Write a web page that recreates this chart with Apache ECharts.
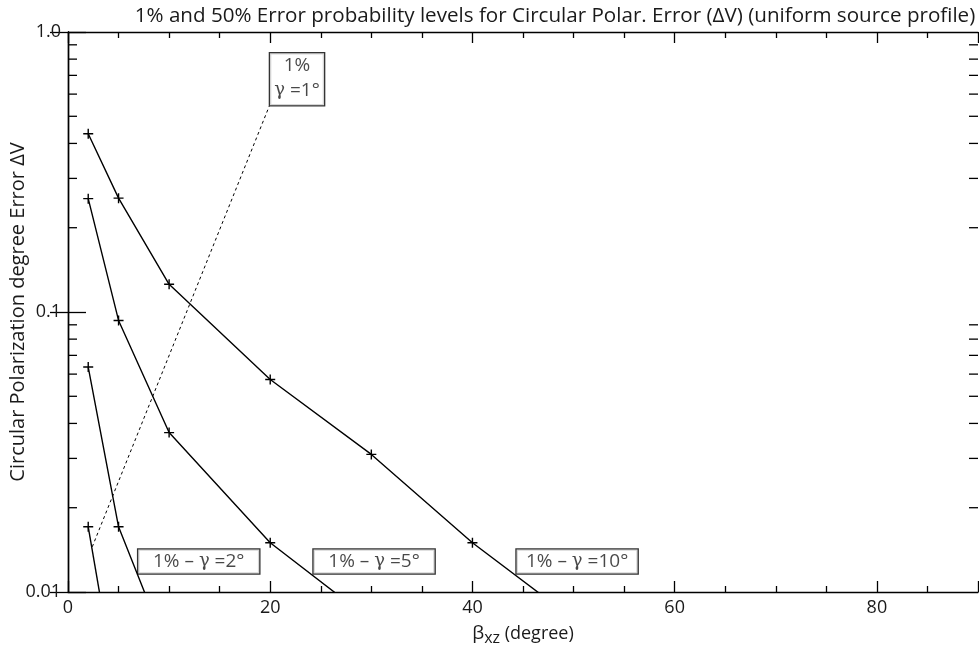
<!DOCTYPE html>
<html>
<head>
<meta charset="utf-8">
<script src="https://cdn.jsdelivr.net/npm/echarts@6/dist/echarts.min.js"></script>
<style>
  html, body { margin: 0; padding: 0; background: #fff; }
  #main { width: 979px; height: 650px; }
</style>
</head>
<body>
<div id="main"></div>
<script>
// 讀圖得到的數據 (beta_xz, 度)
const betaG10 = [2, 5, 10, 20, 30, 40, 50];
const errG10 = [0.433, 0.255, 0.1256, 0.0574, 0.031, 0.015, 0.008];
const betaG5 = [2, 5, 10, 20, 30];
const errG5 = [0.254, 0.0933, 0.0371, 0.015, 0.0079];
const betaG2 = [2, 5, 10];
const errG2 = [0.0636, 0.0171, 0.006];
const betaG1 = [2, 5];
const errG1 = [0.0171, 0.004];

// 虛線 (1% γ=1°)
const dashBeta = [2.4, 19.9];
const dashErr = [0.0145, 0.543];

// 標註框
const boxText = ['1%\nγ =1°', '1% – γ =2°', '1% – γ =5°', '1% – γ =10°'];
const boxBeta = [22.65, 12.93, 30.27, 50.35];
const boxErr = [0.678, 0.01285, 0.01285, 0.01285];

// 刻度
const xTickLabels = { 0: '0', 20: '20', 40: '40', 60: '60', 80: '80' };
const yTickLabels = { 0.01: '0.01', 0.1: '0.1', 1: '1.0' };
const yMinorTicks = [0.02, 0.03, 0.04, 0.05, 0.06, 0.07, 0.08, 0.09, 0.2, 0.3, 0.4, 0.5, 0.6, 0.7, 0.8, 0.9];

const FONT = 'Open Sans';
const INK = '#1a1a1a';
const plus = 'path://M4.3 0h1.4v10h-1.4z M0 4.3h10v1.4h-10z';

const chart = echarts.init(document.getElementById('main'), null, { renderer: 'canvas' });

const pairs = (xs, ys) => xs.map((x, i) => [x, ys[i]]);

function curve(xs, ys) {
  return {
    type: 'line',
    data: pairs(xs, ys),
    symbol: plus,
    symbolSize: 10,
    showSymbol: true,
    clip: true,
    lineStyle: { color: '#000', width: 1.4 },
    itemStyle: { color: '#000' },
    silent: true,
    z: 3,
  };
}

const xCommon = {
  type: 'value',
  min: 0,
  max: 90,
  interval: 20,
  axisLine: { show: true, lineStyle: { color: '#000', width: 1.4 } },
  axisTick: { show: true, inside: true, length: 11, lineStyle: { color: '#000', width: 1.3 } },
  minorTick: { show: true, splitNumber: 4, length: 6, lineStyle: { color: '#000', width: 1.3 } },
  splitLine: { show: false },
};

const yCommon = {
  type: 'log',
  logBase: 10,
  min: 0.01,
  max: 1,
  axisLine: { show: true, lineStyle: { color: '#000', width: 1.4 } },
  axisTick: { show: true, inside: true, length: 18, lineStyle: { color: '#000', width: 1.3 } },
  splitLine: { show: false },
};

const option = {
  animation: false,
  backgroundColor: '#fff',
  title: {
    text: '1% and 50% Error probability levels for Circular Polar. Error (ΔV) (uniform source profile)',
    left: 550,
    textAlign: 'center',
    top: 1,
    textStyle: { fontFamily: FONT, fontSize: 20.6, fontWeight: 'normal', color: INK },
  },
  grid: { left: 68, right: 1, top: 32, bottom: 58, outerBoundsMode: 'none' },
  xAxis: [
    Object.assign({}, xCommon, {
      position: 'bottom',
      name: '{b|β}{s|xz}{n| (degree)}',
      nameLocation: 'middle',
      nameGap: 30,
      nameMoveOverlap: false,
      nameTextStyle: {
        rich: {
          b: { fontFamily: FONT, fontSize: 19, color: INK },
          s: { fontFamily: FONT, fontSize: 16, color: INK, padding: [8, 0, 0, 0] },
          n: { fontFamily: FONT, fontSize: 18, color: INK },
        },
      },
      axisLabel: {
        fontFamily: FONT,
        fontSize: 18,
        color: INK,
        margin: 7,
        formatter: (v) => xTickLabels[v] || '',
      },
    }),
    Object.assign({}, xCommon, { position: 'top', axisLabel: { show: false } }),
  ],
  yAxis: [
    Object.assign({}, yCommon, {
      position: 'left',
      name: 'Circular Polarization degree Error ΔV',
      nameLocation: 'middle',
      nameGap: 40,
      nameMoveOverlap: false,
      nameTextStyle: { fontFamily: FONT, fontSize: 20, color: INK },
      axisLabel: {
        fontFamily: FONT,
        fontSize: 18,
        color: INK,
        margin: 7,
        formatter: (v) => yTickLabels[v] || '',
      },
    }),
    Object.assign({}, yCommon, { position: 'right', axisLabel: { show: false } }),
  ],
  series: [
    curve(betaG10, errG10),
    curve(betaG5, errG5),
    curve(betaG2, errG2),
    curve(betaG1, errG1),
    {
      type: 'line',
      data: pairs(dashBeta, dashErr),
      showSymbol: false,
      symbol: 'none',
      lineStyle: { color: '#000', width: 1, type: [3, 3] },
      silent: true,
      z: 2,
    },
    {
      // 對數軸次刻度 (左右兩邊，向內)
      type: 'custom',
      data: yMinorTicks.map((v) => [45, v]),
      silent: true,
      clip: false,
      z: 10,
      renderItem: (params, api) => {
        const y = api.coord([api.value(0), api.value(1)])[1];
        const left = params.coordSys.x;
        const right = params.coordSys.x + params.coordSys.width;
        return {
          type: 'group',
          children: [
            { type: 'rect', shape: { x: left, y: y - 0.65, width: 9, height: 1.3 }, style: { fill: '#000' } },
            { type: 'rect', shape: { x: right - 9, y: y - 0.65, width: 9, height: 1.3 }, style: { fill: '#000' } },
          ],
        };
      },
    },
    {
      type: 'scatter',
      data: pairs(boxBeta, boxErr).map((d, i) => ({
        value: d,
        label: i === 0 ? { width: 54, height: 52, lineHeight: 25 } : { width: 121, height: 24, lineHeight: 24 },
      })),
      symbolSize: 0,
      silent: true,
      z: 5,
      label: {
        show: true,
        position: 'inside',
        formatter: (p) => boxText[p.dataIndex].replace(/γ/g, '{g|γ}'),
        fontFamily: FONT,
        fontSize: 19,
        color: INK,
        align: 'center',
        verticalAlign: 'middle',
        backgroundColor: '#fff',
        borderColor: '#000',
        borderWidth: 1.3,
        padding: 0,
        rich: {
          g: { fontFamily: 'DejaVu Serif', fontSize: 18, color: INK },
        },
      },
    },
  ],
};

chart.setOption(option);
</script>
</body>
</html>
